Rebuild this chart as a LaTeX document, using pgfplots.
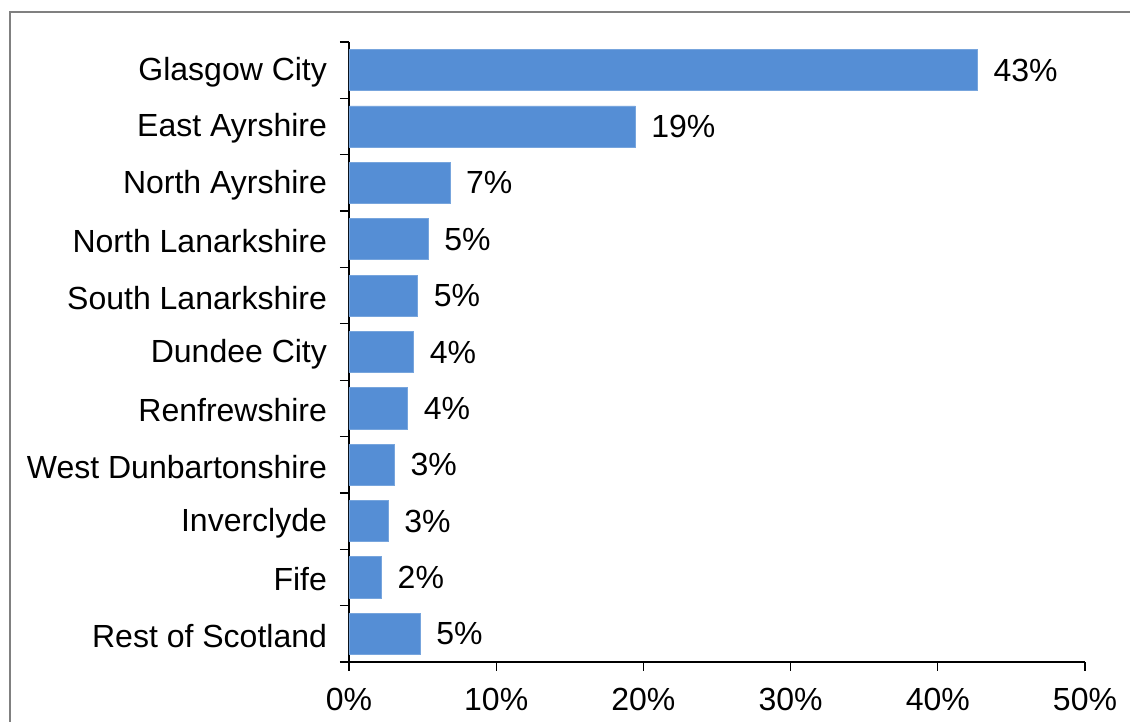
\documentclass[border=0pt]{standalone}
\usepackage{fontspec}
\setmainfont{Liberation Sans}
\usepackage{pgfplots}
\pgfplotsset{compat=1.18}
\definecolor{barblue}{RGB}{85,142,213}
\definecolor{framegray}{RGB}{128,128,128}
\begin{document}
\fontsize{16pt}{19pt}\selectfont
\begin{tikzpicture}
\useasboundingbox (0,0) rectangle (565pt,361pt);
\draw[framegray, line width=1.2pt] (5pt,-2pt) -- (5pt,355pt) -- (570pt,355pt);
\begin{axis}[
  at={(174.5pt,30pt)}, anchor=south west,
  scale only axis, width=368pt, height=310pt,
  xmin=0, xmax=50, ymin=-0.5, ymax=10.5,
  xbar, bar width=0.73,
  axis x line*=bottom, axis y line*=left,
  axis line style={black, line width=0.7pt},
  tick align=outside, major tick length=4.5pt,
  tick style={black, line width=0.6pt},
  xtick={0,10,...,50},
  xticklabel={\pgfmathprintnumber{\tick}\%},
  /pgf/number format/assume math mode=true,
  ytick={-0.5,0.5,...,10.5},
  y tick label as interval,
  yticklabels={Rest of Scotland,Fife,Inverclyde,West Dunbartonshire,Renfrewshire,Dundee City,South Lanarkshire,North Lanarkshire,North Ayrshire,East Ayrshire,Glasgow City},
  yticklabel style={xshift=-1pt, yshift=-1pt},
  xticklabel style={yshift=-3pt},
  tick label style={font=\fontsize{16pt}{19pt}\selectfont},
  point meta=explicit symbolic,
  nodes near coords={\pgfplotspointmeta\%},
  nodes near coords style={anchor=west, xshift=2.5pt, font=\fontsize{16pt}{19pt}\selectfont, black},
]
\addplot[fill=barblue, draw=barblue!80!white, line width=0.4pt] coordinates {
  (4.85,0) [5]
  (2.22,1) [2]
  (2.67,2) [3]
  (3.10,3) [3]
  (3.99,4) [4]
  (4.40,5) [4]
  (4.67,6) [5]
  (5.39,7) [5]
  (6.86,8) [7]
  (19.45,9) [19]
  (42.7,10) [43]
};
\end{axis}
\end{tikzpicture}
\end{document}
